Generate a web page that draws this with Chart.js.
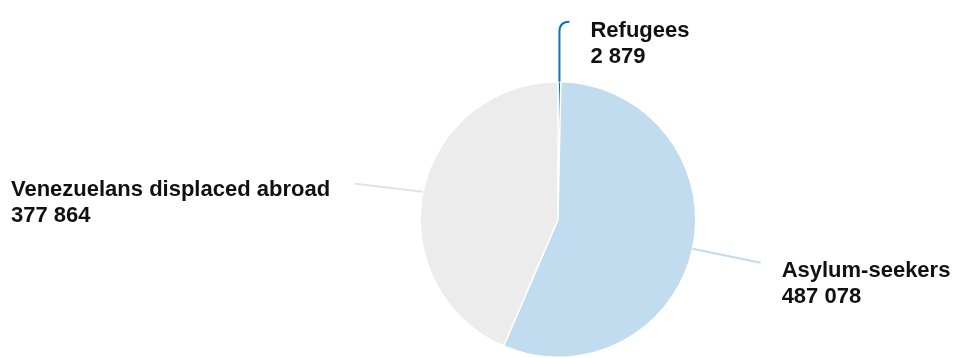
<!DOCTYPE html>
<html>
<head>
<meta charset="utf-8">
<script src="https://cdn.jsdelivr.net/npm/chart.js@4/dist/chart.umd.min.js"></script>
<style>
  html, body { margin: 0; padding: 0; background: #fff; overflow: hidden; }
  #wrap { width: 957px; height: 358px; position: relative; }
</style>
</head>
<body>
<div id="wrap"><canvas id="pie-chart"></canvas></div>
<script>
// data
let categories = ["Refugees", "Asylum-seekers", "Venezuelans displaced abroad"];
let values = [2879, 487078, 377864];

// colours
let sliceColors = ["#0a72ba", "#c0dcee", "#ececec"];
let lineColors = ["#0a72ba", "#c0dcee", "#e3e3e3"];

function fmt(n) {
  return String(n).replace(/\B(?=(\d{3})+(?!\d))/g, " ");
}

// leader line + text placement per slice
let labelSpots = [
  { kind: "curve", up: 60, dx: 10, textX: 21, textY: 15, align: "left" },
  { kind: "line", dx: 68, dy: 14, textX: 21, textY: 14, align: "left" },
  { kind: "line", dx: -68, dy: -8, textX: -25, textY: 12, align: "right" }
];

const leaderLabels = {
  id: "leaderLabels",
  afterDatasetsDraw(chart) {
    const ctx = chart.ctx;
    const arcs = chart.getDatasetMeta(0).data;
    arcs.forEach((arc, i) => {
      const mid = (arc.startAngle + arc.endAngle) / 2;
      const sx = arc.x + Math.cos(mid) * arc.outerRadius;
      const sy = arc.y + Math.sin(mid) * arc.outerRadius;
      const s = labelSpots[i];
      let ex, ey;
      ctx.save();
      ctx.strokeStyle = lineColors[i];
      ctx.lineWidth = 2;
      ctx.beginPath();
      ctx.moveTo(sx, sy);
      if (s.kind === "curve") {
        const topY = sy - s.up;
        ctx.lineTo(sx, topY + 10);
        ex = sx + s.dx;
        ey = topY;
        ctx.quadraticCurveTo(sx, topY, ex, ey);
      } else {
        ex = sx + s.dx;
        ey = sy + s.dy;
        ctx.lineTo(ex, ey);
      }
      ctx.stroke();

      ctx.fillStyle = "#111";
      ctx.font = "bold 22px 'Liberation Sans', Arial, sans-serif";
      ctx.textAlign = "left";
      ctx.textBaseline = "alphabetic";
      let tx = ex + s.textX;
      let ty = ey + s.textY;
      if (s.align === "right") {
        // block is left aligned, ending at tx
        const w = ctx.measureText(categories[i]).width;
        tx = tx - w;
      }
      ctx.fillText(categories[i], tx, ty);
      ctx.fillText(fmt(values[i]), tx, ty + 26);
      ctx.restore();
    });
  }
};

new Chart(document.getElementById("pie-chart"), {
  type: "pie",
  data: {
    labels: categories,
    datasets: [{
      data: values,
      backgroundColor: sliceColors,
      borderColor: "#ffffff",
      borderWidth: 1.5
    }]
  },
  options: {
    responsive: true,
    maintainAspectRatio: false,
    animation: false,
    layout: {
      padding: { top: 81, bottom: -2, left: 419, right: 260 }
    },
    plugins: {
      legend: { display: false },
      tooltip: { enabled: false }
    }
  },
  plugins: [leaderLabels]
});
</script>
</body>
</html>
